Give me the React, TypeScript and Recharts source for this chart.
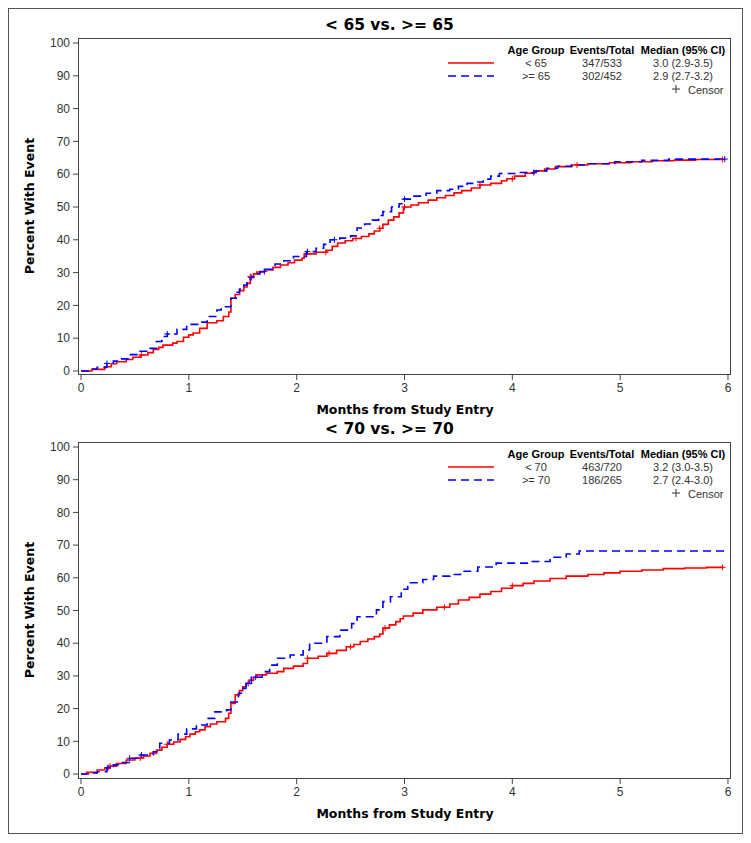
import React from "react";
import { ComposedChart, Line, Scatter, XAxis, YAxis } from "recharts";

type Pt = [number, number];

const FONT = "'Liberation Sans', Arial, sans-serif";
const LABEL_FONT = "'DejaVu Sans', Verdana, sans-serif";
const RED = "#ff0000";
const BLUE = "#0000ff";
const INK = "#333";

const monthTicks = [0, 1, 2, 3, 4, 5, 6];
const pctTicks = [0, 10, 20, 30, 40, 50, 60, 70, 80, 90, 100];

// < 65 vs >= 65  (months, percent with event)
const under65: Pt[] = [
  [0, 0], [0.1, 0.5], [0.22, 1.3], [0.28, 2.2], [0.33, 2.8], [0.42, 3.5], [0.48, 4.2], [0.55, 4.9],
  [0.62, 5.6], [0.67, 6.6], [0.72, 7.2], [0.76, 7.9], [0.85, 8.5], [0.89, 9.0], [0.95, 10.3], [1.0, 11.0],
  [1.04, 11.6], [1.1, 13.0], [1.17, 14.7], [1.26, 15.3], [1.32, 16.6], [1.37, 18.0], [1.39, 22.2], [1.43, 23.3],
  [1.47, 24.5], [1.51, 25.6], [1.54, 26.7], [1.57, 28.8], [1.6, 29.6], [1.63, 30.2], [1.7, 30.8], [1.78, 31.6],
  [1.85, 32.3], [1.92, 33.0], [1.98, 33.8], [2.05, 34.4], [2.07, 35.7], [2.18, 36.2], [2.28, 36.8], [2.33, 38.0],
  [2.38, 39.0], [2.45, 39.7], [2.52, 40.4], [2.6, 41.0], [2.67, 41.8], [2.72, 42.7], [2.77, 43.5], [2.8, 44.7],
  [2.85, 46.0], [2.9, 47.0], [2.95, 48.2], [2.99, 50.0], [3.06, 50.6], [3.13, 51.3], [3.22, 52.1], [3.3, 52.8],
  [3.38, 53.5], [3.46, 54.3], [3.53, 55.0], [3.62, 55.8], [3.7, 56.7], [3.8, 57.2], [3.9, 58.0], [3.95, 58.6],
  [4.02, 59.4], [4.12, 60.3], [4.2, 61.0], [4.3, 61.6], [4.4, 62.3], [4.55, 62.8], [4.7, 63.2], [4.9, 63.5],
  [5.1, 63.8], [5.3, 64.1], [5.5, 64.3], [5.7, 64.5], [5.95, 64.5],
];
const over65: Pt[] = [
  [0, 0], [0.08, 0.6], [0.15, 1.1], [0.24, 2.3], [0.3, 3.0], [0.35, 3.7], [0.44, 5.0], [0.53, 6.0],
  [0.64, 6.9], [0.7, 9.0], [0.75, 10.5], [0.8, 11.3], [0.89, 12.7], [0.98, 14.2], [1.1, 14.9], [1.17, 16.6],
  [1.26, 18.6], [1.3, 19.6], [1.39, 22.2], [1.44, 24.0], [1.47, 25.0], [1.51, 26.2], [1.54, 27.2], [1.57, 28.5],
  [1.6, 29.6], [1.66, 30.3], [1.71, 31.0], [1.8, 32.6], [1.88, 33.6], [1.97, 34.9], [2.09, 36.4], [2.18, 37.4],
  [2.25, 38.6], [2.31, 40.0], [2.4, 40.5], [2.5, 41.2], [2.56, 43.6], [2.63, 44.8], [2.7, 46.0], [2.76, 47.4],
  [2.8, 48.6], [2.88, 50.0], [2.95, 51.0], [2.99, 52.4], [3.08, 53.3], [3.2, 54.2], [3.3, 55.0], [3.42, 55.4],
  [3.5, 56.3], [3.58, 57.2], [3.65, 57.6], [3.73, 58.5], [3.8, 59.4], [3.88, 60.2], [4.05, 60.5], [4.22, 61.0],
  [4.32, 61.8], [4.42, 62.4], [4.55, 62.8], [4.7, 63.2], [4.95, 63.8], [5.2, 64.2], [5.45, 64.6], [5.97, 64.6],
];
const censorUnder65 = [0.56, 1.57, 2.27, 2.55, 2.77, 3.0, 3.7, 4.0, 4.6, 5.95];
const censorOver65 = [0.24, 0.8, 1.58, 1.7, 2.1, 2.35, 3.0, 4.2, 5.97];

// < 70 vs >= 70
const under70: Pt[] = [
  [0, 0], [0.05, 0.5], [0.15, 1.2], [0.22, 1.8], [0.27, 2.4], [0.33, 3.2], [0.42, 4.3], [0.5, 4.9],
  [0.58, 5.5], [0.64, 6.3], [0.7, 7.3], [0.75, 8.2], [0.8, 9.1], [0.86, 9.8], [0.92, 10.6], [0.97, 11.4],
  [1.01, 12.2], [1.06, 12.9], [1.1, 13.5], [1.15, 14.5], [1.2, 15.3], [1.26, 16.0], [1.34, 17.0], [1.37, 18.6],
  [1.39, 21.6], [1.43, 24.2], [1.47, 25.5], [1.5, 26.7], [1.53, 27.7], [1.56, 28.7], [1.6, 29.6], [1.63, 30.3],
  [1.72, 30.8], [1.82, 31.3], [1.88, 32.3], [1.97, 33.0], [2.06, 33.8], [2.1, 35.4], [2.2, 36.0], [2.28, 36.9],
  [2.37, 37.8], [2.46, 38.9], [2.53, 39.6], [2.59, 40.5], [2.66, 41.3], [2.72, 42.0], [2.77, 42.8], [2.8, 44.6],
  [2.86, 45.6], [2.92, 46.6], [2.96, 47.5], [2.99, 48.3], [3.08, 49.2], [3.17, 50.2], [3.3, 51.0], [3.42, 52.0],
  [3.5, 53.2], [3.6, 54.0], [3.7, 55.0], [3.8, 55.8], [3.9, 56.8], [4.0, 57.6], [4.1, 58.3], [4.2, 59.0],
  [4.35, 59.8], [4.5, 60.5], [4.7, 61.0], [4.85, 61.5], [5.0, 62.0], [5.2, 62.4], [5.4, 62.8], [5.6, 63.0],
  [5.8, 63.2], [5.95, 63.2],
];
const over70: Pt[] = [
  [0, 0], [0.08, 0.3], [0.15, 0.7], [0.24, 2.0], [0.3, 2.8], [0.36, 3.5], [0.45, 4.8], [0.55, 5.8],
  [0.67, 6.8], [0.73, 9.4], [0.82, 10.4], [0.9, 12.2], [0.98, 13.8], [1.07, 15.0], [1.17, 17.0], [1.24, 19.0],
  [1.35, 19.6], [1.39, 22.0], [1.46, 24.7], [1.5, 26.2], [1.53, 27.7], [1.58, 29.6], [1.68, 31.3], [1.75, 33.3],
  [1.82, 35.4], [1.94, 36.4], [2.06, 37.9], [2.12, 40.0], [2.28, 42.0], [2.4, 44.0], [2.51, 46.0], [2.56, 48.1],
  [2.74, 50.2], [2.8, 52.7], [2.87, 54.2], [2.97, 56.5], [3.03, 58.5], [3.17, 59.5], [3.27, 60.5], [3.42, 61.0],
  [3.52, 62.0], [3.68, 63.3], [3.85, 64.5], [4.15, 65.0], [4.35, 66.3], [4.5, 67.3], [4.62, 68.2], [5.99, 68.2],
];
const censorUnder70 = [0.27, 0.55, 0.8, 2.1, 2.3, 2.5, 2.82, 3.37, 4.0, 5.95];
const censorOver70 = [0.25, 0.45, 0.56, 1.55, 1.62];

const groupsTop = ["< 65", ">= 65"];
const eventsTop = ["347/533", "302/452"];
const mediansTop = ["3.0 (2.9-3.5)", "2.9 (2.7-3.2)"];
const groupsBottom = ["< 70", ">= 70"];
const eventsBottom = ["463/720", "186/265"];
const mediansBottom = ["3.2 (3.0-3.5)", "2.7 (2.4-3.0)"];

const rows = (pts: Pt[]) => pts.map(([t, v]) => ({ t, v }));
const valueAt = (pts: Pt[], t: number) => {
  let v = 0;
  for (const [pt, pv] of pts) if (pt <= t) v = pv;
  return v;
};
const censorRows = (pts: Pt[], times: number[]) => times.map((t) => ({ t, v: valueAt(pts, t) }));

const plus = (color: string) => (props: any) => {
  const { cx, cy } = props;
  return <path d={`M${cx - 3},${cy}h6M${cx},${cy - 3}v6`} stroke={color} strokeWidth={1} fill="none" />;
};

const tickStyle = { fill: INK, fontSize: 12, fontFamily: FONT };

function centered(text: string, cx: number, cy: number, size: number, bold = false, family = FONT) {
  return (
    <div
      style={{
        position: "absolute", left: cx - 150, top: cy - 10, width: 300, height: 20, lineHeight: "20px",
        textAlign: "center", fontSize: size, fontWeight: bold ? "bold" : "normal", color: bold ? "#000" : INK,
        fontFamily: family, whiteSpace: "nowrap",
      }}
    >
      {text}
    </div>
  );
}

interface PanelProps {
  top: number;
  title: string;
  red: Pt[];
  blue: Pt[];
  redCensor: number[];
  blueCensor: number[];
  groups: string[];
  events: string[];
  medians: string[];
  yDomain: [number, number];
}

function Panel({ top, title, red, blue, redCensor, blueCensor, groups, events, medians, yDomain }: PanelProps) {
  return (
    <div style={{ position: "absolute", left: 0, top, width: 735, height: 404 }}>
      <ComposedChart width={735} height={400} margin={{ top: 30, right: 12, bottom: 3, left: 30 }}>
        <XAxis
          type="number" dataKey="t" domain={[-0.028, 6.028]} ticks={monthTicks} allowDataOverflow
          interval={0} axisLine={false} tickLine={{ stroke: "#444" }} tickSize={5} tickMargin={3}
          tick={tickStyle} height={30}
        />
        <YAxis
          type="number" dataKey="v" domain={yDomain} ticks={pctTicks} allowDataOverflow
          interval={0} axisLine={false} tickLine={{ stroke: "#444" }} tickSize={5} tickMargin={3}
          tick={tickStyle} width={40}
        />
        <Line data={rows(red)} dataKey="v" type="stepAfter" stroke={RED} strokeWidth={1.6} dot={false} isAnimationActive={false} />
        <Line data={rows(blue)} dataKey="v" type="stepAfter" stroke={BLUE} strokeWidth={1.6} strokeDasharray="8 5" dot={false} isAnimationActive={false} />
        <Scatter data={censorRows(red, redCensor)} dataKey="v" shape={plus(RED)} isAnimationActive={false} />
        <Scatter data={censorRows(blue, blueCensor)} dataKey="v" shape={plus(BLUE)} isAnimationActive={false} />
      </ComposedChart>
      <div style={{ position: "absolute", left: 70, top: 30, width: 653, height: 337, border: "1px solid #444", boxSizing: "border-box", pointerEvents: "none" }} />
      <div style={{ position: "absolute", left: 317, top: 7, height: 20, lineHeight: "20px", fontSize: 15.5, fontWeight: "bold", fontFamily: LABEL_FONT, whiteSpace: "nowrap" }}>
        {title}
      </div>
      {centered("Months from Study Entry", 397, 402, 12.5, true, LABEL_FONT)}
      <div style={{ position: "absolute", left: 22 - 150, top: 198 - 10, width: 300, height: 20, transform: "rotate(-90deg)" }}>
        {centered("Percent With Event", 150, 10, 12.5, true, LABEL_FONT)}
      </div>
      {centered("Age Group", 528, 42, 11, true)}
      {centered("Events/Total", 594, 42, 11, true)}
      {centered("Median (95% CI)", 675, 42, 11, true)}
      {groups.map((g, i) => (
        <React.Fragment key={g}>
          {centered(g, 528, 55 + i * 13, 11)}
          {centered(events[i], 594, 55 + i * 13, 11)}
          {centered(medians[i], 675, 55 + i * 13, 11)}
        </React.Fragment>
      ))}
      <svg style={{ position: "absolute", left: 438, top: 48 }} width={52} height={26}>
        <line x1={2} y1={7} x2={48} y2={7} stroke={RED} strokeWidth={1.6} />
        <line x1={2} y1={20} x2={48} y2={20} stroke={BLUE} strokeWidth={1.6} strokeDasharray="8 5" />
      </svg>
      <svg style={{ position: "absolute", left: 663, top: 76 }} width={10} height={10}>
        <path d="M1,5h8M5,1v8" stroke={INK} strokeWidth={1} />
      </svg>
      <div style={{ position: "absolute", left: 680, top: 72, height: 20, lineHeight: "20px", fontSize: 11, fontFamily: FONT, color: INK }}>
        Censor
      </div>
    </div>
  );
}

export default function App() {
  return (
    <div style={{ position: "relative", width: 736, height: 827 }}>
      <div style={{ position: "absolute", left: 0, top: 0, width: 735, height: 826, border: "1px solid #555", boxSizing: "border-box" }} />
      <Panel
        top={0} title="< 65 vs. >= 65" red={under65} blue={over65} redCensor={censorUnder65} blueCensor={censorOver65}
        groups={groupsTop} events={eventsTop} medians={mediansTop} yDomain={[-1.22, 101.52]}
      />
      <Panel
        top={404} title="< 70 vs. >= 70" red={under70} blue={over70} redCensor={censorUnder70} blueCensor={censorOver70}
        groups={groupsBottom} events={eventsBottom} medians={mediansBottom} yDomain={[-1.53, 101.53]}
      />
    </div>
  );
}
